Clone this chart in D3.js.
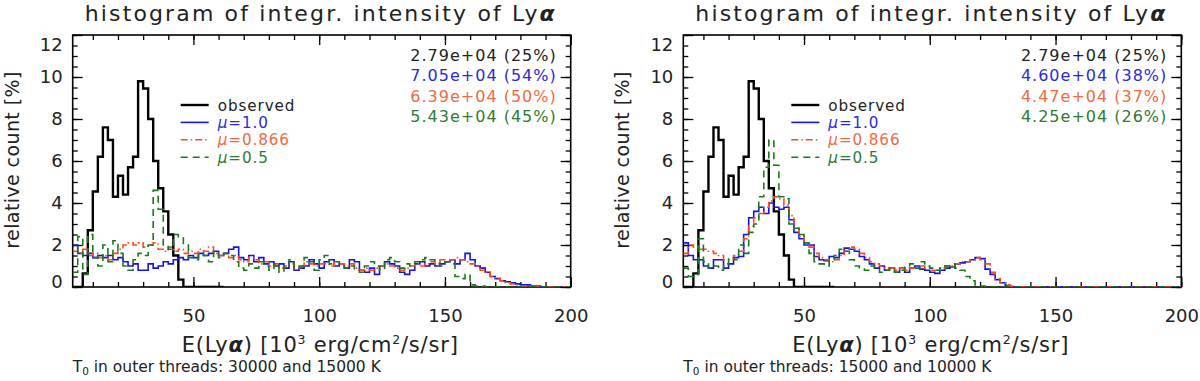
<!DOCTYPE html>
<html>
<head>
<meta charset="utf-8">
<script src="https://cdn.jsdelivr.net/npm/d3@7"></script>
<style>
body{margin:0;background:#fff}
text{font-family:"DejaVu Sans",sans-serif;fill:#222}
</style>
</head>
<body>
<script>
const W=1200, H=381;

// histogram bins: 2..200, width 2
const binStart=2, binWidth=2, binEnd=200;

// observed (same in both panels), one value per bin
const observed=[0,0,0.65,2.7,4.55,6.2,7.6,7.0,4.3,5.3,
  4.4,5.7,6.2,9.8,9.45,8.0,6.0,4.7,3.6,2.5,
  1.5,0.35,0,0,0,0,0,0,0,0];

// left panel: T0 outer threads 30000 / 15000 K
const leftMu10=[2.0,1.6,1.5,1.6,1.4,1.5,1.4,1.5,1.3,1.4,
  1.2,1.0,1.1,0.8,0.8,1.1,0.9,1.0,1.2,1.1,
  1.3,1.4,1.3,1.5,1.4,1.6,1.5,1.6,1.7,1.5,
  1.6,1.8,1.9,1.4,1.3,1.5,1.2,1.4,1.1,1.2,
  1.0,1.1,0.9,1.2,0.8,0.9,1.0,1.3,1.1,0.9,
  1.2,1.3,1.0,1.1,0.9,1.3,1.2,0.8,0.7,0.9,
  0.6,1.0,1.2,1.1,1.0,0.7,0.6,0.8,1.1,1.2,
  1.0,1.1,1.0,1.1,1.2,1.3,1.1,1.3,1.6,1.3,
  1.0,0.9,0.7,0.5,0.4,0.3,0.25,0.2,0.15,0.1,
  0.1,0.05,0.05,0,0,0,0,0,0];
const leftMu0866=[1.7,1.6,1.8,1.5,1.6,1.4,1.5,1.3,1.6,1.8,
  2.0,2.1,2.0,2.1,1.9,2.0,2.1,1.8,1.7,1.9,
  1.7,1.8,1.6,1.7,1.6,1.8,1.7,1.9,1.6,1.5,
  1.6,1.4,1.5,1.3,1.2,1.4,1.3,1.1,1.2,1.0,
  1.1,0.9,1.0,1.1,0.9,1.0,1.2,1.1,1.0,1.1,
  1.1,1.0,1.2,1.1,1.0,1.1,0.9,0.8,0.9,0.8,
  0.9,1.0,1.1,1.0,0.9,0.8,0.9,1.0,1.1,1.0,
  1.1,1.2,1.1,1.3,1.2,1.3,1.4,1.3,1.2,1.1,
  1.0,0.8,0.7,0.5,0.4,0.3,0.2,0.15,0.1,0.05,
  0.05,0,0,0,0,0,0,0,0];
const leftMu05=[0.7,2.4,0.6,2.5,1.4,1.0,2.0,1.2,2.2,1.6,
  1.0,0.8,1.3,1.6,1.5,2.0,4.6,3.7,2.0,1.8,
  2.5,2.4,2.0,1.4,1.3,1.6,1.5,1.2,1.7,1.4,
  1.6,1.5,1.2,0.9,0.8,1.1,0.9,1.2,1.0,0.8,
  1.1,0.7,1.0,1.3,0.9,1.0,1.4,1.2,0.8,1.3,
  1.5,1.1,1.2,1.0,0.9,1.0,0.8,0.7,1.0,1.2,
  1.0,0.8,1.3,1.4,1.2,0.9,1.1,1.0,1.2,1.3,
  1.4,1.3,1.2,1.0,1.2,1.1,0.5,0.4,0.6,0.1,
  0.05,0.05,0,0,0,0,0,0,0,0,
  0,0,0,0,0,0,0,0,0];

// right panel: T0 outer threads 15000 / 10000 K
const rightMu10=[2.1,1.5,1.3,1.3,1.0,0.9,1.3,1.3,0.9,1.1,
  1.4,1.45,2.5,3.3,3.6,3.8,3.5,4.0,3.8,3.7,
  3.8,3.2,2.6,2.3,2.0,2.0,1.45,1.3,1.25,1.45,
  1.4,1.6,1.85,1.8,1.7,1.45,1.3,1.1,0.9,1.0,
  0.8,0.9,0.7,0.9,0.7,0.9,1.0,0.85,0.8,0.7,
  0.65,0.8,0.9,0.95,1.1,1.15,1.2,1.3,1.4,1.35,
  0.85,0.6,0.35,0.2,0.05,0,0,0,0,0,
  0,0,0,0,0,0,0,0,0,0,
  0,0,0,0,0,0,0,0,0,0,
  0,0,0,0,0,0,0,0,0];
const rightMu0866=[1.6,2.0,1.9,1.8,1.8,1.7,1.6,1.5,1.3,1.3,
  1.5,1.7,2.3,2.9,3.3,3.5,3.8,4.1,4.3,4.2,
  3.9,3.4,2.8,2.4,2.1,1.9,1.6,1.4,1.3,1.2,
  1.3,1.5,1.7,1.9,1.8,1.6,1.4,1.2,1.1,1.0,
  0.9,0.9,0.8,0.9,0.8,0.9,0.9,1.0,0.9,0.8,
  0.8,0.9,1.0,1.0,1.1,1.2,1.2,1.3,1.4,1.3,
  1.1,0.7,0.4,0.2,0.1,0.05,0,0,0,0,
  0,0,0,0,0,0,0,0,0,0,
  0,0,0,0,0,0,0,0,0,0,
  0,0,0,0,0,0,0,0,0];
const rightMu05=[0.9,0.5,0.6,2.3,1.2,0.9,1.0,0.8,1.1,1.4,
  1.3,2.0,1.6,2.6,3.0,4.3,5.7,7.0,5.8,4.3,
  4.2,3.0,2.8,2.5,2.1,1.6,1.2,1.1,1.0,1.3,
  1.5,1.8,1.7,1.3,1.0,0.9,0.8,1.0,0.9,0.7,
  0.8,0.9,0.7,0.8,1.0,1.1,0.9,1.2,1.0,0.9,
  0.8,0.9,1.0,1.1,0.9,0.8,0.5,0.3,0.1,0.05,
  0,0,0,0,0,0,0,0,0,0,
  0,0,0,0,0,0,0,0,0,0,
  0,0,0,0,0,0,0,0,0,0,
  0,0,0,0,0,0,0,0,0];

const leftStats=["2.79e+04 (25%)","7.05e+04 (54%)","6.39e+04 (50%)","5.43e+04 (45%)"];
const rightStats=["2.79e+04 (25%)","4.60e+04 (38%)","4.47e+04 (37%)","4.25e+04 (26%)"];
const legendNames=["observed","1.0","0.866","0.5"];
const outerT=["30000 and 15000 K","15000 and 10000 K"];
const xMajor=[50,100,150,200];
const yMajor=[0,2,4,6,8,10,12];

const colors=["#000","#1414e6","#ff4a1c","#1a7a1a"];
const textColors=["#222","#2b2bd6","#ef6a45","#2f7a35"];
const dashes=[null,null,"7,3,1.5,3","7,5"];
const widths=[2.4,1.6,1.6,1.6];

const svg=d3.select("body").append("svg").attr("width",W).attr("height",H);

const pw=498, ph=252, plotTop=35;
const x=d3.scaleLinear().domain([binStart,binEnd]).range([0,pw]);
const y=d3.scaleLinear().domain([0,12]).range([ph,0]);

function steps(vals){
  const pts=vals.map((v,i)=>[binStart+i*binWidth,v]);
  pts.push([binStart+vals.length*binWidth,vals[vals.length-1]]);
  return d3.line().x(d=>x(d[0])).y(d=>y(d[1])).curve(d3.curveStepAfter)(pts);
}

function panel(left,series,stats,tLabel,id){
  const g=svg.append("g").attr("transform",`translate(${left},${plotTop})`);

  g.append("clipPath").attr("id","clip"+id).append("rect").attr("width",pw).attr("height",ph);

  // minor ticks
  const xMinor=d3.range(10,binEnd+1,10);
  const yMinor=d3.range(0,12.01,0.5);
  g.append("g").attr("transform",`translate(0,${ph})`)
    .call(d3.axisBottom(x).tickValues(xMinor).tickSize(-5).tickFormat(""));
  g.append("g").call(d3.axisTop(x).tickValues(xMinor).tickSize(-5).tickFormat(""));
  g.append("g").call(d3.axisLeft(y).tickValues(yMinor).tickSize(-5).tickFormat(""));
  g.append("g").attr("transform",`translate(${pw},0)`)
    .call(d3.axisRight(y).tickValues(yMinor).tickSize(-5).tickFormat(""));

  // major ticks
  g.append("g").attr("transform",`translate(0,${ph})`)
    .call(d3.axisBottom(x).tickValues(xMajor).tickSize(-10).tickPadding(22).tickFormat(d3.format("d")))
    .call(a=>a.selectAll("text").attr("font-size",18).attr("fill","#222").style("font-family","DejaVu Sans"));
  g.append("g").call(d3.axisTop(x).tickValues(xMajor).tickSize(-10).tickFormat(""));
  g.append("g").call(d3.axisLeft(y).tickValues(yMajor).tickSize(-10).tickPadding(10).tickFormat(d3.format("d")))
    .call(a=>a.selectAll("text").attr("font-size",18).attr("fill","#222").style("font-family","DejaVu Sans")
      .attr("dy",d=>d===12?"0.85em":d===0?"0.0em":"0.32em"));
  g.append("g").attr("transform",`translate(${pw},0)`)
    .call(d3.axisRight(y).tickValues(yMajor).tickSize(-10).tickFormat(""));
  g.selectAll(".domain").remove();
  g.selectAll(".tick line").attr("stroke","#000").attr("stroke-width",1.3);

  g.append("rect").attr("width",pw).attr("height",ph)
    .attr("fill","none").attr("stroke","#000").attr("stroke-width",1.6);

  // histograms
  const lines=g.append("g").attr("clip-path",`url(#clip${id})`);
  series.forEach((s,i)=>{
    lines.append("path").attr("d",steps(s)).attr("fill","none")
      .attr("stroke",colors[i]).attr("stroke-width",widths[i])
      .attr("stroke-dasharray",dashes[i]);
  });

  // legend
  const lg=g.append("g").attr("transform",`translate(${108},${70})`);
  legendNames.forEach((n,i)=>{
    const yy=i*17.4;
    lg.append("line").attr("x1",0).attr("x2",28).attr("y1",yy).attr("y2",yy)
      .attr("stroke",colors[i]).attr("stroke-width",widths[i]).attr("stroke-dasharray",dashes[i]);
    const t=lg.append("text").attr("x",37).attr("y",yy+5.5).attr("font-size",15.2)
      .attr("letter-spacing",0.9).style("fill",textColors[i]);
    if(i===0) t.text(n);
    else{
      t.append("tspan").attr("font-style","italic").text("\u03bc");
      t.append("tspan").text("="+n);
    }
  });

  // stats
  stats.forEach((s,i)=>{
    g.append("text").attr("x",pw-14).attr("y",20+i*20.3+6).attr("text-anchor","end")
      .attr("font-size",16).attr("letter-spacing",1).style("fill",textColors[i]).text(s);
  });

  // title
  const tt=g.append("text").attr("x",pw/2-2).attr("y",-14).attr("text-anchor","middle")
    .attr("font-size",22).attr("textLength",470).attr("lengthAdjust","spacing");
  tt.append("tspan").text("histogram of integr. intensity of Ly");
  tt.append("tspan").attr("font-style","italic").attr("font-weight","bold").text("\u03b1");

  // x title
  const xt=g.append("text").attr("x",x(100)+1).attr("y",ph+65).attr("text-anchor","middle")
    .attr("font-size",21).attr("letter-spacing",0.8);
  xt.append("tspan").text("E(Ly");
  xt.append("tspan").attr("font-style","italic").attr("font-weight","bold").text("\u03b1");
  xt.append("tspan").text(") [10");
  xt.append("tspan").attr("font-size",12.5).attr("dy",-8).text("3");
  xt.append("tspan").attr("dy",8).text(" erg/cm");
  xt.append("tspan").attr("font-size",12.5).attr("dy",-8).text("2");
  xt.append("tspan").attr("dy",8).text("/s/sr]");

  // y title
  g.append("text").attr("transform",`translate(${-54},${ph/2-1})rotate(-90)`)
    .attr("text-anchor","middle").attr("font-size",19).attr("letter-spacing",0.4).text("relative count [%]");

  // footer
  const ft=g.append("text").attr("x",0).attr("y",ph+85).attr("font-size",15.5);
  ft.append("tspan").text("T");
  ft.append("tspan").attr("font-size",10.5).attr("dy",3).text("0");
  ft.append("tspan").attr("dy",-3).text(" in outer threads: "+tLabel);
}

panel(72.7,[observed,leftMu10,leftMu0866,leftMu05],leftStats,outerT[0],0);
panel(683.3,[observed,rightMu10,rightMu0866,rightMu05],rightStats,outerT[1],1);
</script>
</body>
</html>
